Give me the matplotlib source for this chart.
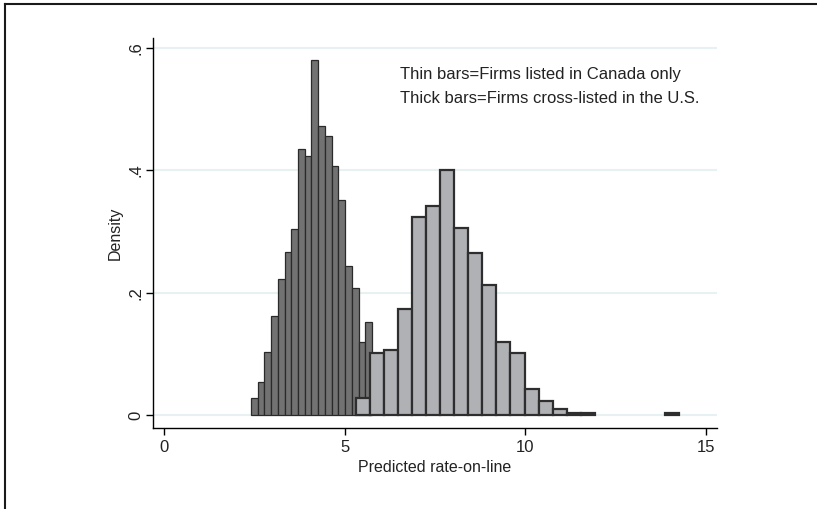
import numpy as np
import matplotlib
matplotlib.use("Agg")
import matplotlib.pyplot as plt
from matplotlib.lines import Line2D

plt.rcParams['font.family'] = ['Liberation Sans', 'DejaVu Sans']

# Thin bars: firms listed in Canada only
thin_start = 2.41
thin_width = 0.186
thin_density = [0.027, 0.054, 0.1025, 0.162, 0.222, 0.266, 0.304, 0.435, 0.423,
                0.5805, 0.472, 0.456, 0.407, 0.352, 0.244, 0.207, 0.119, 0.152]

# Thick bars: firms cross-listed in the U.S.
thick_start = 5.32
thick_width = 0.388
thick_density = [0.028, 0.101, 0.106, 0.174, 0.323, 0.342, 0.401, 0.305, 0.265,
                 0.212, 0.120, 0.101, 0.043, 0.023, 0.009, 0.003, 0.003,
                 0, 0, 0, 0, 0, 0.003]

xticks = [0, 5, 10, 15]
yticks = [0, 0.2, 0.4, 0.6]
ytick_labels = ["0", ".2", ".4", ".6"]

fig = plt.figure(figsize=(8.17, 5.09), dpi=100)
ax = fig.add_axes([153 / 817, 81 / 509, (717 - 153) / 817, (428 - 38) / 509])

thin_x = thin_start + thin_width * np.arange(len(thin_density))
thick_x = thick_start + thick_width * np.arange(len(thick_density))

ax.bar(thin_x, thin_density, width=thin_width, align='edge',
       color='#727272', edgecolor='#2a2a2a', linewidth=0.9, zorder=2)
thick_h = np.array(thick_density)
mask = thick_h > 0
ax.bar(thick_x[mask], thick_h[mask], width=thick_width, align='edge',
       color='#b0b1b5', edgecolor='#2e2e2e', linewidth=1.6, zorder=3)

for y in yticks:
    ax.axhline(y, color='#e8f1f2', linewidth=1.5, zorder=1)

ax.set_xlim(-0.30, 15.3)
ax.set_ylim(-0.0213, 0.6165)

ax.spines['top'].set_visible(False)
ax.spines['right'].set_visible(False)
ax.spines['left'].set_linewidth(1.0)
ax.spines['bottom'].set_linewidth(1.0)

ax.set_xticks(xticks)
ax.set_yticks(yticks)
ax.set_yticklabels(ytick_labels, rotation=90, va='center')
ax.tick_params(axis='both', direction='out', length=5, width=1.0,
               labelsize=12, colors='#000000', labelcolor='#222222')
ax.tick_params(axis='y', pad=2)

ax.set_xlabel("Predicted rate-on-line", fontsize=11.5, color='#222222', labelpad=4)
ax.set_ylabel("Density", fontsize=11.5, color='#222222', labelpad=4)

ax.text(6.54, 0.556, "Thin bars=Firms listed in Canada only", fontsize=12,
        color='#222222', va='center', ha='left')
ax.text(6.54, 0.518, "Thick bars=Firms cross-listed in the U.S.", fontsize=12,
        color='#222222', va='center', ha='left')

# outer frame: top and left edges only
fig.add_artist(Line2D([4.5 / 817, 4.5 / 817], [0, 1 - 4 / 509],
                      transform=fig.transFigure, color='#1a1a1a', linewidth=1.5))
fig.add_artist(Line2D([4.5 / 817, 1], [1 - 4 / 509, 1 - 4 / 509],
                      transform=fig.transFigure, color='#1a1a1a', linewidth=1.5))

fig.savefig("out.png", dpi=100)
